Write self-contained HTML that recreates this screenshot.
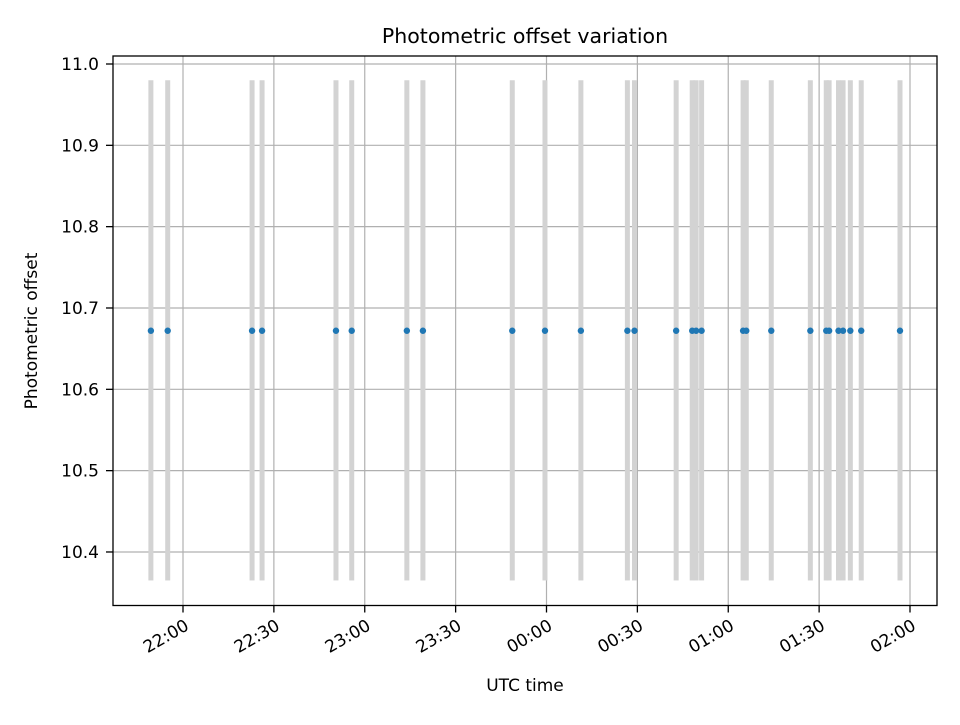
<!DOCTYPE html>
<html><head><meta charset="utf-8"><style>
body{margin:0;background:#fff}
svg text{font-family:"DejaVu Sans","Liberation Sans",sans-serif;fill:#000}
</style></head><body>
<svg id="chart" width="960" height="720" xmlns="http://www.w3.org/2000/svg"></svg>
<script>
// minutes after 21:00 UTC
const obsTimes=[49.4,54.95,82.8,86.1,110.5,115.7,133.9,139.2,168.7,179.5,191.35,206.7,209.05,222.8,228.1,229.4,231.2,244.9,245.95,254.2,267.1,272.35,273.3,276.4,277.9,280.3,283.9,296.7];
const offsets=obsTimes.map(()=>10.672);
const barLow=10.365, barHigh=10.98;
const xTicks=[60,90,120,150,180,210,240,270,300];
const xTickLabels=["22:00","22:30","23:00","23:30","00:00","00:30","01:00","01:30","02:00"];
const yTicks=[10.4,10.5,10.6,10.7,10.8,10.9,11.0];
const yTickLabels=["10.4","10.5","10.6","10.7","10.8","10.9","11.0"];

const L=113,R=937,T=56,B=605.5;
const xs=m=>183+(m-60)*(727/240);
const ys=v=>64+(11.0-v)*813.3;
const svg=document.getElementById('chart');
const NS="http://www.w3.org/2000/svg";
function mk(tag,attrs,parent){const e=document.createElementNS(NS,tag);for(const k in attrs)e.setAttribute(k,attrs[k]);(parent||svg).appendChild(e);return e;}

const grid=mk('g',{});


xTicks.forEach(t=>{const l=mk('line',{x1:xs(t),x2:xs(t),y1:T,y2:B,stroke:'#b0b0b0','stroke-width':1.2},grid);
});
yTicks.forEach(t=>{const l=mk('line',{x1:L,x2:R,y1:ys(t),y2:ys(t),stroke:'#b0b0b0','stroke-width':1.2},grid);
});

const bars=mk('g',{});


obsTimes.forEach(t=>{const r=mk('rect',{x:xs(t)-2.5,y:ys(barHigh),width:5,height:ys(barLow)-ys(barHigh),fill:'#d3d3d3'},bars);
});

const pts=mk('g',{});


obsTimes.forEach((t,i)=>{const c=mk('circle',{cx:xs(t),cy:ys(offsets[i]),r:3.2,fill:'#1f77b4'},pts);
});

const frame=mk('rect',{x:L,y:T,width:R-L,height:B-T,fill:'none',stroke:'#000','stroke-width':1.3});



const xa=mk('g',{});


xTicks.forEach((t,i)=>{const x=xs(t);mk('line',{x1:x,x2:x,y1:B,y2:B+7,stroke:'#000','stroke-width':1.3},xa);
const ax=x+1, ay=B+13;
const tx=mk('text',{x:ax,y:ay,'font-size':'17','text-anchor':'end','dominant-baseline':'hanging',transform:`rotate(-30 ${ax} ${ay})`},xa);
tx.textContent=xTickLabels[i];});
const ya=mk('g',{});


yTicks.forEach((t,i)=>{const y=ys(t);mk('line',{x1:L-7,x2:L,y1:y,y2:y,stroke:'#000','stroke-width':1.3},ya);
const tx=mk('text',{x:L-14,y:y+6,'font-size':'17','text-anchor':'end'},ya);
tx.textContent=yTickLabels[i];});

const title=mk('text',{x:525,y:43,'font-size':'20.5','text-anchor':'middle'});
title.textContent='Photometric offset variation';


const xl=mk('text',{x:525,y:691,'font-size':'17','text-anchor':'middle'});
xl.textContent='UTC time';


const yl=mk('text',{x:37,y:331,'font-size':'17','text-anchor':'middle',transform:'rotate(-90 37 331)'});
yl.textContent='Photometric offset';


</script>
</body></html>
